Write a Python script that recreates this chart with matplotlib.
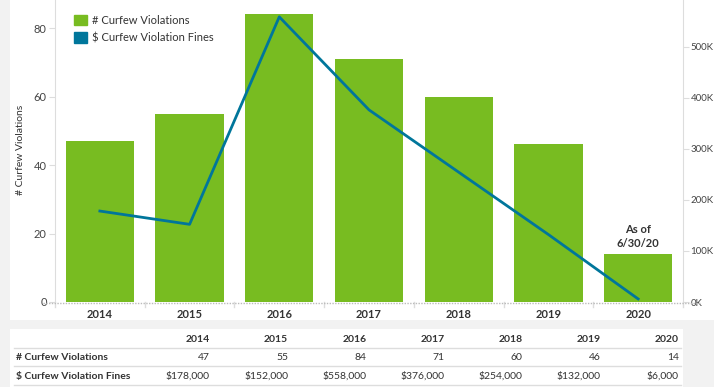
import numpy as np
import matplotlib
matplotlib.use('Agg')
import matplotlib.pyplot as plt
from matplotlib.patches import Rectangle, Patch
from matplotlib.lines import Line2D

plt.rcParams['font.family'] = ['Lato', 'DejaVu Sans']

years = ['2014', '2015', '2016', '2017', '2018', '2019', '2020']
violations = [47, 55, 84, 71, 60, 46, 14]
fines = [178000, 152000, 558000, 376000, 254000, 132000, 6000]
left_ticks = [0, 20, 40, 60, 80]
right_ticks = [0, 100000, 200000, 300000, 400000, 500000]

green = '#78BC21'
teal = '#00769B'
txt = '#333333'
W, H = 714, 387

fig = plt.figure(figsize=(W / 100, H / 100), dpi=100, facecolor='#f2f2f2')
# white panels for chart and table
fig.patches.append(Rectangle((10 / W, (H - 320) / H), 1, 320 / H, transform=fig.transFigure,
                             facecolor='white', edgecolor='none', zorder=-5))
fig.patches.append(Rectangle((10 / W, 0), (683 - 10) / W, 58 / H, transform=fig.transFigure,
                             facecolor='white', edgecolor='none', zorder=-5))

ax = fig.add_axes([55 / W, (H - 302) / H, (683 - 55) / W, 302 / H])
ax.set_facecolor('none')
x = np.arange(len(years))
ax.bar(x, violations, width=0.76, color=green, zorder=2)
ax.set_xlim(-0.5, len(years) - 0.5)
ax.set_ylim(0, 88.2)
ax.set_yticks(left_ticks)
ax.tick_params(axis='y', length=4, color='#dddddd', labelsize=8, labelcolor='#444444', pad=2)
fig.text(21 / W, (H - 150) / H, '# Curfew Violations', fontsize=7.5, color=txt,
         rotation=90, ha='center', va='center')

ax.set_xticks(x)
ax.set_xticklabels(years, fontsize=8, fontweight='bold', color=txt)
ax.tick_params(axis='x', length=0, pad=5)
for b in np.arange(len(years) + 1) - 0.5:
    ax.plot([b, b], [0, -0.018], transform=ax.get_xaxis_transform(), color='#dddddd',
            lw=1, clip_on=False)

for s in ['top', 'bottom', 'right']:
    ax.spines[s].set_visible(False)
ax.spines['left'].set_color('#dddddd')

ax2 = ax.twinx()
ax2.plot(x, fines, color=teal, lw=2, zorder=3)
ax2.set_ylim(0, 591000)
ax2.set_yticks(right_ticks)
ax2.set_yticklabels(['%dK' % (v // 1000) for v in right_ticks])
ax2.tick_params(axis='y', length=4, color='#dddddd', labelsize=7, labelcolor='#444444', pad=1.5)
for s in ['top', 'bottom', 'left']:
    ax2.spines[s].set_visible(False)
ax2.spines['right'].set_color('#dddddd')

# dotted baseline
fig.add_artist(Line2D([43 / W, 700 / W], [(H - 302.5) / H] * 2, transform=fig.transFigure,
                      color='#bbbbbb', lw=1, ls=(0, (1, 1))))

ax.text(6, 15.5, 'As of\n6/30/20', ha='center', va='bottom', fontsize=8,
        fontweight='bold', color=txt, linespacing=1.35)

ax2.legend(handles=[Patch(color=green, label='# Curfew Violations'),
                    Patch(color=teal, label='$ Curfew Violation Fines')],
           loc='upper left', bbox_to_anchor=(0.015, 0.985), frameon=False,
           fontsize=8, handlelength=1.1, handleheight=1.1, labelspacing=0.6,
           handletextpad=0.45, labelcolor=txt)

# table below
col_x = np.linspace(210, 679, len(years)) / W
row_y = [(H - 340) / H, (H - 358) / H, (H - 376.5) / H]
fig.text(16 / W, row_y[1], '# Curfew Violations', fontsize=7.5, fontweight='bold',
         color=txt, va='center')
fig.text(16 / W, row_y[2], '$ Curfew Violation Fines', fontsize=7.5, fontweight='bold',
         color=txt, va='center')
for cx, yr, v, f in zip(col_x, years, violations, fines):
    fig.text(cx, row_y[0], yr, fontsize=7.5, fontweight='bold', color=txt, ha='right', va='center')
    fig.text(cx, row_y[1], str(v), fontsize=7.5, color=txt, ha='right', va='center')
    fig.text(cx, row_y[2], '${:,}'.format(f), fontsize=7.5, color=txt, ha='right', va='center')
for ly in [347.5, 366, 384.5]:
    fig.add_artist(Line2D([14 / W, 681 / W], [(H - ly) / H] * 2, transform=fig.transFigure,
                          color='#dddddd', lw=1))

fig.savefig('out.png', dpi=100, facecolor=fig.get_facecolor())
